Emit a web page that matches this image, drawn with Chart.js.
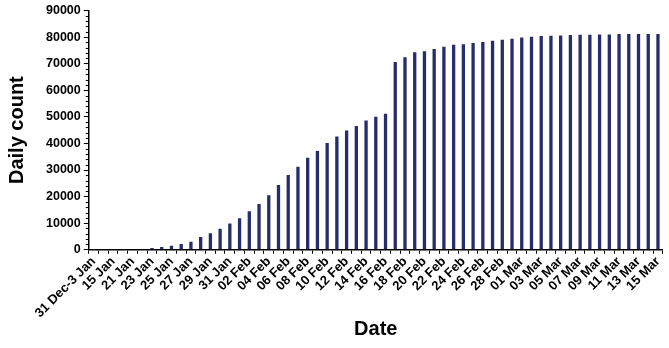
<!DOCTYPE html>
<html>
<head>
<meta charset="utf-8">
<script src="https://cdn.jsdelivr.net/npm/chart.js@4.4.0/dist/chart.umd.min.js"></script>
<style>
  html, body { margin: 0; padding: 0; background: #fff; }
  #wrap { width: 669px; height: 348px; }
</style>
</head>
<body>
<div id="wrap"><canvas id="chartDaily"></canvas></div>
<script>
'use strict';

// categories (periods / days)
var dates = ["31 Dec-3 Jan", "4-14 Jan", "15 Jan", "16-20 Jan",
  "21 Jan", "22 Jan", "23 Jan", "24 Jan", "25 Jan", "26 Jan", "27 Jan", "28 Jan", "29 Jan", "30 Jan", "31 Jan",
  "01 Feb", "02 Feb", "03 Feb", "04 Feb", "05 Feb", "06 Feb", "07 Feb", "08 Feb", "09 Feb", "10 Feb",
  "11 Feb", "12 Feb", "13 Feb", "14 Feb", "15 Feb", "16 Feb", "17 Feb", "18 Feb", "19 Feb", "20 Feb",
  "21 Feb", "22 Feb", "23 Feb", "24 Feb", "25 Feb", "26 Feb", "27 Feb", "28 Feb", "29 Feb",
  "01 Mar", "02 Mar", "03 Mar", "04 Mar", "05 Mar", "06 Mar", "07 Mar", "08 Mar", "09 Mar", "10 Mar",
  "11 Mar", "12 Mar", "13 Mar", "14 Mar", "15 Mar"];

// counts
var counts = [40, 41, 45, 60, 200, 300,
  640, 1010, 1500, 2130, 3000, 4760, 6250, 7870, 9850,
  11870, 14490, 17230, 20490, 24340, 28090, 31200, 34570, 37190, 40190,
  42580, 44830, 46550, 48580, 50070, 51200, 70670, 72400, 74270, 74640,
  75540, 76400, 77150, 77270, 77790, 78160, 78650, 79030, 79400,
  79890, 80150, 80410, 80520, 80640, 80790, 80900, 80900, 81010, 81010,
  81160, 81160, 81160, 81160, 81160];

var yMax = 90000;
var yMajor = 10000;
var yMinor = 2000;

// small minor ticks on the y axis
var minorTicks = {
  id: 'minorTicks',
  afterDraw: function(chart) {
    var y = chart.scales.y;
    var ctx = chart.ctx;
    ctx.save();
    ctx.strokeStyle = '#000';
    ctx.lineWidth = 1;
    for (var v = 0; v <= yMax; v += yMinor) {
      if (v % yMajor === 0) continue;
      var py = Math.round(y.getPixelForValue(v)) + 0.5;
      ctx.beginPath();
      ctx.moveTo(y.right - 3, py);
      ctx.lineTo(y.right, py);
      ctx.stroke();
    }
    ctx.restore();
  }
};

new Chart(document.getElementById('chartDaily'), {
  type: 'bar',
  data: {
    labels: dates,
    datasets: [{
      label: 'Daily count',
      backgroundColor: '#272c6a',
      data: counts,
      barPercentage: 0.34,
      categoryPercentage: 1.0
    }]
  },
  options: {
    responsive: true,
    maintainAspectRatio: false,
    animation: false,
    layout: { padding: { top: 6, right: 0, bottom: 7, left: 1 } },
    plugins: {
      legend: { display: false },
      tooltip: { enabled: false }
    },
    scales: {
      x: {
        grid: { display: true, drawOnChartArea: false, tickLength: 4, color: '#000', offset: true },
        border: { color: '#000', width: 1.5 },
        ticks: {
          autoSkip: false,
          maxRotation: 45,
          minRotation: 45,
          padding: 0,
          color: '#000',
          font: { family: 'Liberation Sans, Arial', size: 13, weight: 'bold' },
          callback: function(val, i) { return i % 2 === 0 ? dates[i] : ''; }
        },
        title: {
          display: true,
          text: 'Date',
          color: '#000',
          padding: { top: -4, bottom: 0 },
          font: { family: 'Liberation Sans, Arial', size: 20, weight: 'bold' }
        }
      },
      y: {
        min: 0,
        max: yMax,
        grid: { display: true, drawOnChartArea: false, tickLength: 5, color: '#000' },
        border: { color: '#000', width: 1.5 },
        ticks: {
          stepSize: yMajor,
          padding: 3,
          color: '#000',
          font: { family: 'Liberation Sans, Arial', size: 12.5, weight: 'bold' },
          callback: function(v) { return String(v); }
        },
        title: {
          display: true,
          text: 'Daily count',
          color: '#000',
          padding: { bottom: 14 },
          font: { family: 'Liberation Sans, Arial', size: 20, weight: 'bold' }
        }
      }
    }
  },
  plugins: [minorTicks]
});
</script>
</body>
</html>
